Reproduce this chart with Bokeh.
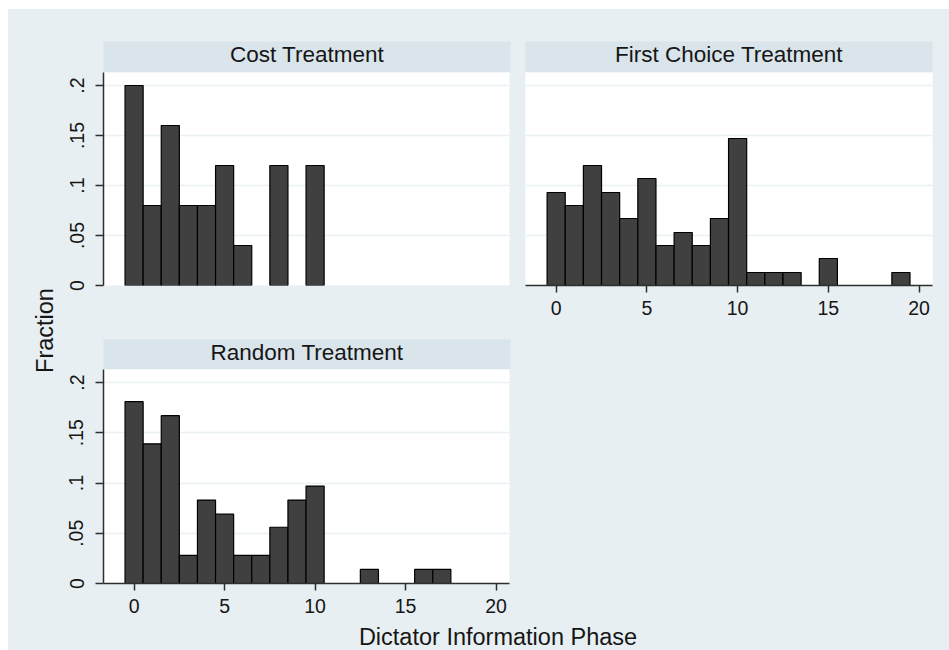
import math
from bokeh.plotting import figure
from bokeh.layouts import row, column
from bokeh.models import Range1d, FixedTicker, Label, Spacer
from bokeh.embed import file_html
from bokeh.resources import INLINE

# ---------------- data ----------------
bins = list(range(20))
cost_treatment = [0.200, 0.080, 0.160, 0.080, 0.080, 0.120, 0.040, 0.000, 0.120, 0.000,
                  0.120, 0.000, 0.000, 0.000, 0.000, 0.000, 0.000, 0.000, 0.000, 0.000]
first_choice_treatment = [0.093, 0.080, 0.120, 0.093, 0.067, 0.107, 0.040, 0.053, 0.040, 0.067,
                          0.147, 0.013, 0.013, 0.013, 0.000, 0.027, 0.000, 0.000, 0.000, 0.013]
random_treatment = [0.181, 0.139, 0.167, 0.028, 0.083, 0.069, 0.028, 0.028, 0.056, 0.083,
                    0.097, 0.000, 0.000, 0.014, 0.000, 0.000, 0.014, 0.014, 0.000, 0.000]
panel_titles = ["Cost Treatment", "First Choice Treatment", "Random Treatment"]
x_ticks = [0, 5, 10, 15, 20]
x_tick_labels = ["0", "5", "10", "15", "20"]
y_ticks = [0, 0.05, 0.1, 0.15, 0.2]
y_tick_labels = ["0", ".05", ".1", ".15", ".2"]
x_title = "Dictator Information Phase"
y_title = "Fraction"

# ---------------- style ----------------
BG = "#e8eff2"
STRIP = "#d9e4eb"
GRID = "#e9f1f4"
BAR = "#404040"
TXT = "#161616"
AX = "#2e2e2e"
FONT = "Liberation Sans"
X_RANGE = (-1.69, 20.74)
Y_RANGE = (0, 0.213)


def strip(title, fw, fh, left, right, top, ty):
    s = figure(frame_width=fw, frame_height=fh, min_border_left=left, min_border_right=right,
               min_border_top=top, min_border_bottom=0, x_range=Range1d(0, 1), y_range=Range1d(0, 1),
               x_axis_location=None, y_axis_location=None, toolbar_location=None,
               output_backend="svg", title=None, background_fill_color=STRIP,
               border_fill_color=BG, outline_line_color=None)
    s.grid.visible = False
    s.add_layout(Label(x=0.5, y=ty, text=title, text_align="center", text_baseline="alphabetic",
                       text_font=FONT, text_font_size="22.5px", text_color=TXT))
    return s


def panel(vals, fw, fh, left, right, bottom, show_x, show_y):
    p = figure(frame_width=fw, frame_height=fh, min_border_left=left, min_border_right=right,
               min_border_top=0, min_border_bottom=bottom,
               x_range=Range1d(*X_RANGE), y_range=Range1d(*Y_RANGE),
               x_axis_location="below" if show_x else None,
               y_axis_location="left" if show_y else None,
               toolbar_location=None, output_backend="svg", title=None,
               background_fill_color="white", border_fill_color=BG, outline_line_color=None)
    p.xgrid.visible = False
    p.ygrid.ticker = FixedTicker(ticks=y_ticks)
    p.ygrid.grid_line_color = GRID
    p.ygrid.grid_line_width = 1.5
    xs = [b for b, v in zip(bins, vals) if v > 0]
    ts = [v for v in vals if v > 0]
    p.vbar(x=xs, top=ts, bottom=0, width=1, fill_color=BAR, line_color="black", line_width=1.2)
    if show_x:
        ax = p.xaxis[0]
        ax.ticker = FixedTicker(ticks=x_ticks)
        ax.major_label_overrides = {t: l for t, l in zip(x_ticks, x_tick_labels)}
        ax.major_tick_out = 7
        ax.major_tick_in = 0
        ax.minor_tick_line_color = None
        ax.axis_line_color = AX
        ax.axis_line_width = 1.5
        ax.major_tick_line_color = AX
        ax.major_tick_line_width = 1.5
        ax.major_label_standoff = 8
        ax.major_label_text_font = FONT
        ax.major_label_text_font_size = "19.5px"
        ax.major_label_text_color = TXT
    if show_y:
        ay = p.yaxis[0]
        ay.ticker = FixedTicker(ticks=y_ticks)
        ay.major_label_overrides = {t: l for t, l in zip(y_ticks, y_tick_labels)}
        ay.major_label_orientation = "vertical"
        ay.major_tick_out = 8
        ay.major_tick_in = 0
        ay.minor_tick_line_color = None
        ay.axis_line_color = AX
        ay.axis_line_width = 1.5
        ay.major_tick_line_color = AX
        ay.major_tick_line_width = 1.5
        ay.major_label_standoff = 12
        ay.major_label_text_font = FONT
        ay.major_label_text_font_size = "19.5px"
        ay.major_label_text_color = TXT
    return p


def blank(fw, fh):
    b = figure(frame_width=fw, frame_height=fh, min_border=0, x_range=Range1d(0, fw),
               y_range=Range1d(0, fh), x_axis_location=None, y_axis_location=None,
               toolbar_location=None, output_backend="svg", title=None,
               background_fill_color=BG, border_fill_color=BG, outline_line_color=None)
    b.grid.visible = False
    return b


a_col = column(strip(panel_titles[0], 407, 31, 44, 8, 32, 0.58),
               panel(cost_treatment, 406, 213, 45, 8, 40, False, True))
b_col = column(strip(panel_titles[1], 407, 31, 8, 17, 32, 0.58),
               panel(first_choice_treatment, 407, 213, 8, 17, 40, True, False))
c_col = column(strip(panel_titles[2], 407, 30, 44, 8, 14, 0.57),
               panel(random_treatment, 406, 214, 45, 8, 38, True, True))
spacer = Spacer(width=432, height=296, styles={"background-color": BG})

grid = column(row(a_col, b_col), row(c_col, spacer))

yl = blank(50, 612)
yl.add_layout(Label(x=36, y=291, text=y_title, angle=math.pi / 2, text_align="center",
                    text_baseline="alphabetic", text_font=FONT, text_font_size="23.5px",
                    text_color=TXT))
xl = blank(941, 29)
xl.add_layout(Label(x=489.5, y=13.5, text=x_title, text_align="center", text_baseline="alphabetic",
                    text_font=FONT, text_font_size="23.5px", text_color=TXT))

layout = column(row(yl, grid), xl, margin=(9, 0, 0, 8), styles={"background-color": BG})

open("out.html", "w").write(file_html(layout, INLINE))
